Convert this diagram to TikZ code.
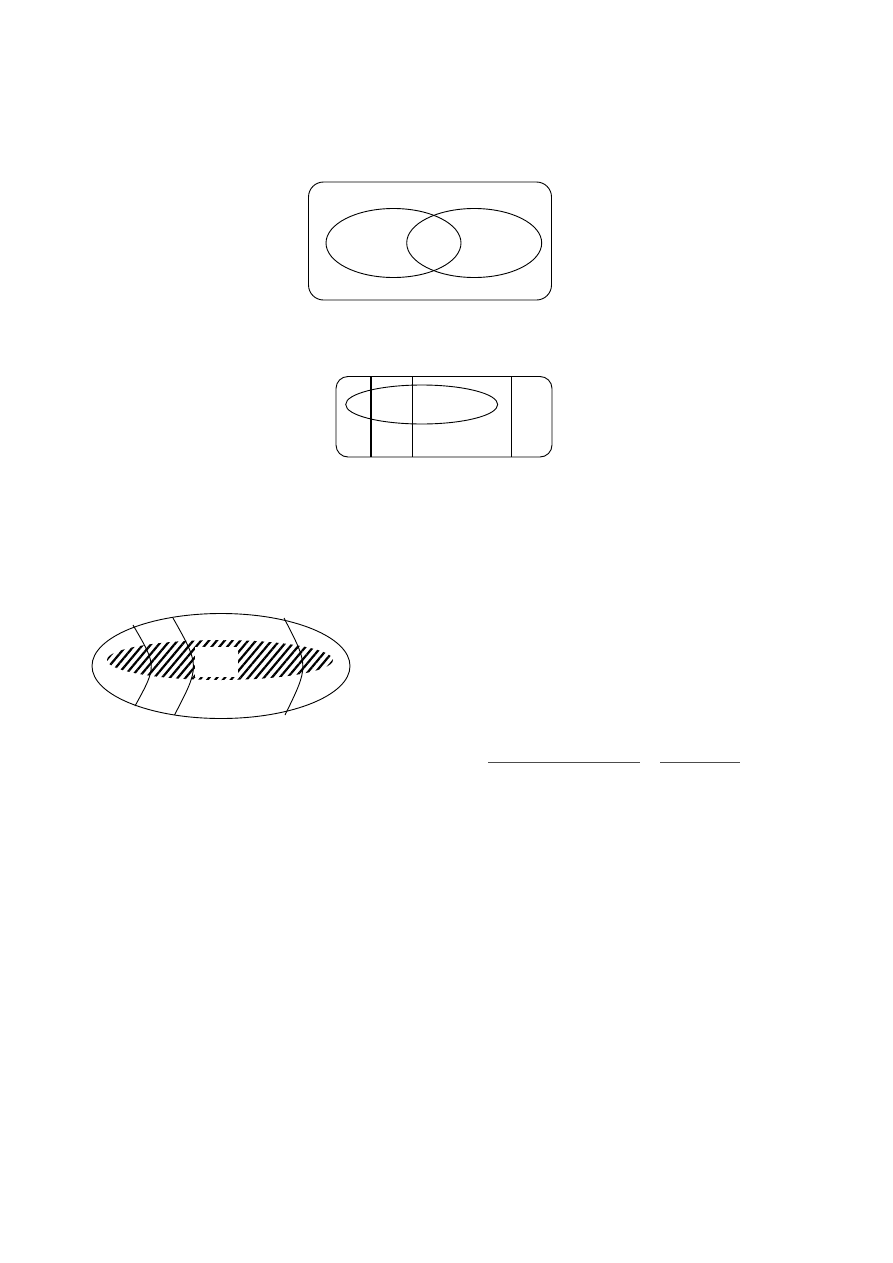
\documentclass[tikz,border=0pt]{standalone}
\usetikzlibrary{patterns.meta}
\begin{document}
\begin{tikzpicture}[x=1pt,y=-1pt,line width=0.9pt,
  outline/.style={draw=black,line width=0.9pt},
  hatch/.style={pattern={Lines[angle=50,distance=6pt,line width=2.2pt]}},
  rule/.style={draw=black!70,line width=1pt}]
\useasboundingbox (0,0) rectangle (893,1263);
% diagram 1
\draw[outline,rounded corners=15pt] (308.5,182) rectangle (551.5,300);
\draw[outline] (393.5,243) ellipse [x radius=67.5,y radius=34.5];
\draw[outline] (474.2,243) ellipse [x radius=67.5,y radius=34.5];
% diagram 2
\draw[outline,rounded corners=12pt] (336,376.5) rectangle (552,457);
\draw[outline] (421.7,404.5) ellipse [x radius=76,y radius=19.5];
\draw[line width=2pt] (370.7,376.5) -- (370.7,457);
\draw[outline] (412.3,376.5) -- (412.3,457);
\draw[outline] (511.7,376.5) -- (511.7,457);
% diagram 3
\fill[hatch] (220,660) ellipse [x radius=113,y radius=20];
\fill[white] (195,647) rectangle (238,676.5);
\draw[outline] (221,666) ellipse [x radius=129,y radius=52.5];
\draw[outline] (133,625) .. controls (157,666) .. (135,706);
\draw[outline] (173,618) .. controls (200,666) .. (174.5,715);
\draw[outline] (284,618) .. controls (309,666) .. (285,715);
% lines
\coordinate (a1) at (488,762); \coordinate (a2) at (640,762);
\coordinate (b1) at (660,762); \coordinate (b2) at (739.5,762);
\draw[rule] (a1) -- (a2);
\draw[rule] (b1) -- (b2);
\end{tikzpicture}
\end{document}
